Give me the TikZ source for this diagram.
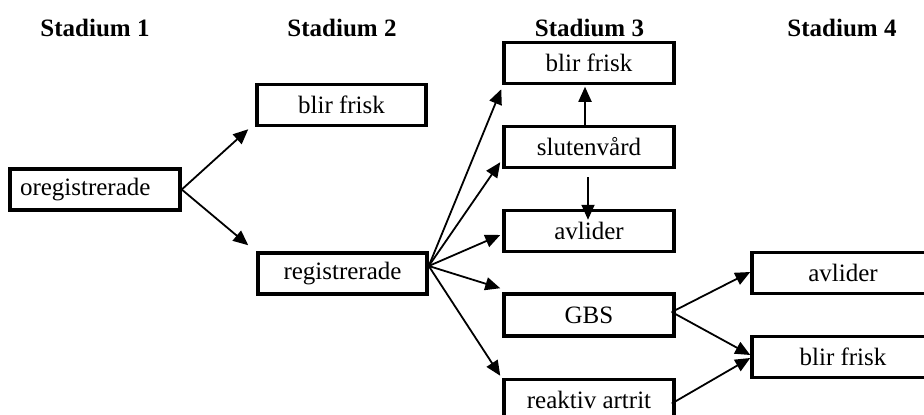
\documentclass[tikz,border=0pt]{standalone}
\usepackage{fontspec}
\setmainfont{Liberation Serif}
\usetikzlibrary{arrows.meta,calc}

\tikzset{
  stagebox/.style={draw, line width=3.5pt, inner sep=0pt, minimum height=41pt,
    font=\fontsize{25}{29}\selectfont},
  heading/.style={anchor=base, font=\fontsize{25}{30}\selectfont\bfseries},
  flow/.style={line width=1.8pt, -{Triangle[length=15pt,width=13pt]}},
}

\begin{document}
\begin{tikzpicture}[x=1pt, y=-1pt]
  \useasboundingbox (0,0) rectangle (924,415);

  % column headings
  \node[heading] (h1) at (95,36)    {Stadium 1};
  \node[heading] (h2) at (342,36)   {Stadium 2};
  \node[heading] (h3) at (589.5,36) {Stadium 3};
  \node[heading] (h4) at (842,36)   {Stadium 4};

  % stadium 1
  \node[stagebox, text width=150pt, align=left, inner xsep=10pt] (oreg) at (95,189.5) {oregistrerade};

  % stadium 2
  \node[stagebox, minimum width=169pt] (bf2) at (341.5,105)   {blir frisk};
  \node[stagebox, minimum width=169pt] (reg) at (342.5,273.5) {registrerade};

  % stadium 3
  \node[stagebox, minimum width=170pt] (bf3)  at (589,63)    {blir frisk};
  \node[stagebox, minimum width=170pt] (slut) at (589,147)   {slutenvård};
  \node[stagebox, minimum width=170pt] (avl3) at (589,231)   {avlider};
  \node[stagebox, minimum width=170pt, minimum height=42pt] (gbs) at (589,315) {GBS};
  \node[stagebox, minimum width=170pt] (reak) at (589,400)   {reaktiv artrit};

  % stadium 4
  \node[stagebox, minimum width=182pt] (avl4) at (843,273) {avlider};
  \node[stagebox, minimum width=182pt] (bf4)  at (843,357) {blir frisk};

  % stadium 1 -> 2
  \draw[flow] (oreg.east) -- ($(bf2.south west)+(-7,2)$);
  \draw[flow] (oreg.east) -- ($(reg.north west)+(-8,-6)$);

  % stadium 2 -> 3
  \coordinate (rs) at ($(reg.east)+(0,-7.5)$);
  \draw[flow] (rs) -- ($(bf3.south west)+(-1,4)$);
  \draw[flow] (rs) -- ($(slut.south west)+(-2,-7)$);
  \draw[flow] (rs) -- ($(avl3.west)+(-2,4)$);
  \draw[flow] (rs) -- ($(gbs.north west)+(-2,-4)$);
  \draw[flow] (rs) -- ($(reak.north west)+(-2,-2)$);

  % within stadium 3
  \draw[flow] ($(slut.north)+(-4,0)$) -- ($(bf3.south)+(-4,1.5)$);
  \draw[flow] ($(slut.south)+(-1,8)$) -- ($(avl3.north)+(-1,11)$);

  % stadium 3 -> 4
  \draw[flow] ($(gbs.east)+(-4,-3)$)  -- ($(avl4.west)+(0,-1)$);
  \draw[flow] ($(gbs.east)+(-4,-3)$)  -- ($(bf4.west)+(0,-2)$);
  \draw[flow] ($(reak.east)+(-4,3.5)$) -- ($(bf4.west)+(0,1)$);
\end{tikzpicture}
\end{document}
